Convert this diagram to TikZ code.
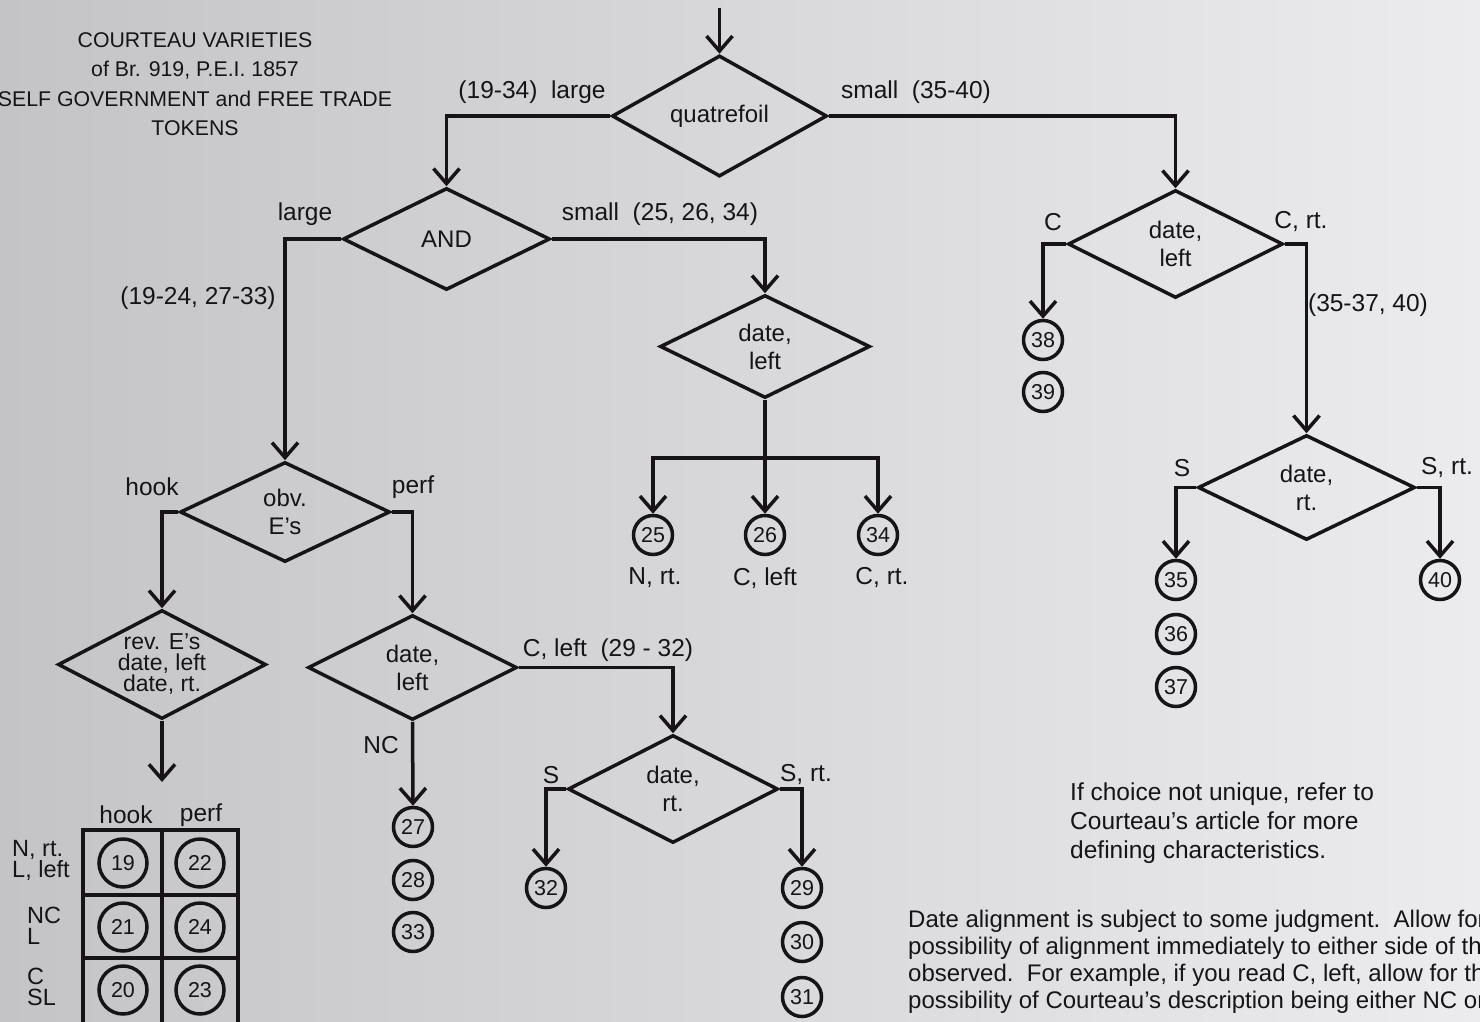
\documentclass[tikz,border=0pt]{standalone}
\usepackage{fontspec}
\setmainfont{Liberation Sans}
\usetikzlibrary{shapes.geometric,arrows.meta}
\definecolor{bgL}{RGB}{196,196,198}
\definecolor{bgR}{RGB}{236,236,238}
\definecolor{ink}{RGB}{22,20,22}
\begin{document}
\begin{tikzpicture}[x=1pt,y=-1pt,
  every node/.style={font=\fontsize{24.5}{28}\selectfont, text=ink},
  dia/.style={draw=ink, line width=3.5pt, shape=diamond, inner sep=0pt, align=center, font=\fontsize{24}{28}\selectfont},
  num/.style={draw=ink, line width=3.5pt, circle, inner sep=0pt, minimum size=39pt, font=\fontsize{21.5}{24}\selectfont},
  bignum/.style={num, minimum size=48pt},
  lbl/.style={inner sep=0pt},
  link/.style={draw=ink, line width=3.5pt},
  arr/.style={link, -{Straight Barb[length=15pt,width=26pt]}},
]
\useasboundingbox (0,0) rectangle (1480,1022);
\clip (0,0) rectangle (1480,1022);
\shade[left color=bgL, right color=bgR] (0,0) rectangle (1480,1022);

% title
\node[lbl, align=center, font=\fontsize{21.3}{29.5}\selectfont] (title) at (195,84)
  {COURTEAU VARIETIES\\of Br. 919, P.E.I. 1857\\SELF GOVERNMENT and FREE TRADE\\TOKENS};

% decision diamonds
\node[dia, minimum width=215pt, minimum height=102pt] (q)   at (719.5,116) {quatrefoil};
\node[dia, minimum width=207pt, minimum height=102pt] (and) at (446.5,239) {AND};
\node[dia, minimum width=210pt, minimum height=103pt] (dl1) at (765,346.5) {date,\\left};
\node[dia, minimum width=215pt, minimum height=108pt] (dl2) at (1175.5,244) {date,\\left};
\node[dia, minimum width=217pt, minimum height=105pt] (dr2) at (1306.5,487.5) {date,\\rt.};
\node[dia, minimum width=210pt, minimum height=100pt] (obv) at (285,512) {obv.\\E's};
\node[dia, minimum width=208pt, minimum height=105pt, inner sep=-10pt, font=\fontsize{23}{21}\selectfont] (rev) at (162,664.5) {rev. E's\\date, left\\date, rt.};
\node[dia, minimum width=209pt, minimum height=105pt] (dl3) at (412.5,667.5) {date,\\left};
\node[dia, minimum width=210pt, minimum height=108pt] (dr3) at (673,789) {date,\\rt.};

% result circles
\node[num] (c25) at (653,535) {25};
\node[num] (c26) at (765,535) {26};
\node[num] (c34) at (878,535) {34};
\node[num] (c38) at (1043,340) {38};
\node[num] (c39) at (1043,392) {39};
\node[num] (c35) at (1176,580) {35};
\node[num] (c36) at (1176,634) {36};
\node[num] (c37) at (1176,687) {37};
\node[num] (c40) at (1440,580) {40};
\node[num] (c27) at (413,827) {27};
\node[num] (c28) at (413,880) {28};
\node[num] (c33) at (413,932) {33};
\node[num] (c32) at (546,888) {32};
\node[num] (c29) at (802,888) {29};
\node[num] (c30) at (802,942) {30};
\node[num] (c31) at (802,997) {31};

% connectors
\coordinate (start) at (719.5,8);
\draw[arr] (start) -- (q.north);
\draw[arr] (q.west) -| (and.north);
\draw[arr] (q.east) -| (dl2.north);
\draw[arr] (and.west) -| (obv.north);
\draw[arr] (and.east) -| (dl1.north);
\coordinate (j1) at (765,458);
\draw[link] (dl1.south) -- (j1);
\draw[arr] (j1) -| (c25.north);
\draw[arr] (j1) -| (c34.north);
\draw[arr] (j1) -- (c26.north);
\draw[arr] (dl2.west) -| (c38.north);
\draw[arr] (dl2.east) -| (dr2.north);
\draw[arr] (dr2.west) -| (c35.north);
\draw[arr] (dr2.east) -| (c40.north);
\draw[arr] (obv.west) -| (rev.north);
\draw[arr] (obv.east) -| (dl3.north);
\coordinate (revend) at (162,782);
\draw[arr] (rev.south) -- (revend);
\draw[arr] (dl3.east) -| (dr3.north);
\draw[arr] (dl3.south) -- (c27.north);
\draw[arr] (dr3.west) -| (c32.north);
\draw[arr] (dr3.east) -| (c29.north);

% branch labels
\node[lbl] (l1) at (532,92) {(19-34)\ \ large};
\node[lbl] (l2) at (916,92) {small\ \ (35-40)};
\node[lbl] (l3) at (305,214) {large};
\node[lbl] (l4) at (660,214) {small\ \ (25, 26, 34)};
\node[lbl] (l5) at (198,298) {(19-24, 27-33)};
\node[lbl] (l6) at (152,487) {hook};
\node[lbl] (l7) at (413,487) {perf};
\node[lbl] (l8) at (608,650) {C, left\ \ (29 - 32)};
\node[lbl] (l9) at (381,745) {NC};
\node[lbl] (l10) at (551,775) {S};
\node[lbl] (l11) at (806,775) {S, rt.};
\node[lbl] (l12) at (1053,222) {C};
\node[lbl] (l13) at (1301,222) {C, rt.};
\node[lbl] (l14) at (1368,305) {(35-37, 40)};
\node[lbl] (l15) at (1182,468) {S};
\node[lbl] (l16) at (1447,468) {S, rt.};
\node[lbl] (n25) at (655,578) {N, rt.};
\node[lbl] (n26) at (765,578) {C, left};
\node[lbl] (n34) at (882,578) {C, rt.};

% table
\draw[link] (83,830) rectangle (238,1040);
\draw[link] (162,830) -- (162,1040);
\draw[link] (83,895) -- (238,895);
\draw[link] (83,958) -- (238,958);
\node[lbl] (th1) at (126,815) {hook};
\node[lbl] (th2) at (201,815) {perf};
\node[bignum] (t19) at (123,863) {19};
\node[bignum] (t22) at (200,863) {22};
\node[bignum] (t21) at (123,927) {21};
\node[bignum] (t24) at (200,927) {24};
\node[bignum] (t20) at (123,990) {20};
\node[bignum] (t23) at (200,990) {23};
\node[lbl, anchor=west, align=left, font=\fontsize{23.5}{21}\selectfont] (r1) at (12,860) {N, rt.\\L, left};
\node[lbl, anchor=west, align=left, font=\fontsize{23.5}{21}\selectfont] (r2) at (27,926) {NC\\L};
\node[lbl, anchor=west, align=left, font=\fontsize{23.5}{21}\selectfont] (r3) at (27,987) {C\\SL};

% notes
\node[lbl, anchor=north west, align=left, font=\fontsize{24.5}{29}\selectfont] (note1) at (1070,783)
  {If choice not unique, refer to\\Courteau's article for more\\defining characteristics.};
\node[lbl, anchor=north west, align=left, font=\fontsize{24}{27}\selectfont] (note2) at (908,910)
  {Date alignment is subject to some judgment.\ \ Allow for the\\possibility of alignment immediately to either side of the\\observed.\ \ For example, if you read C, left, allow for the\\possibility of Courteau's description being either NC or};
\end{tikzpicture}
\end{document}
